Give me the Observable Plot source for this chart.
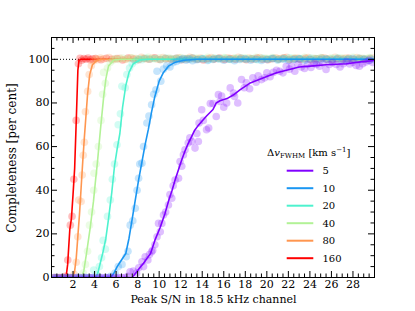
<!DOCTYPE html>
<html><head><meta charset="utf-8">
<script src="https://cdn.jsdelivr.net/npm/d3@7"></script>
<script src="https://cdn.jsdelivr.net/npm/@observablehq/plot@0.6"></script>
<style>body{margin:0;background:#fff}#chart{width:415px;height:311px}
#chart svg, #chart svg text{font-family:"DejaVu Serif","Liberation Serif",serif !important}</style>
</head><body><div id="chart"></div>
<script>
// ---- data ----
const widths = [5, 10, 20, 40, 80, 160];
const colors = ["#8000ff", "#1a96f2", "#4df2ce", "#b2f296", "#ff964f", "#ff0000"];
const xTickLabels = [2, 4, 6, 8, 10, 12, 14, 16, 18, 20, 22, 24, 26, 28];
const yTickLabels = [0, 20, 40, 60, 80, 100];
const xLabel = "Peak S/N in 18.5 kHz channel";
const yLabel = "Completeness [per cent]";

const line5x = [0, 7.5, 7.9, 8.2, 8.55, 8.9, 9.2, 9.6, 10.1, 10.55, 10.9, 11.2, 11.5, 11.8, 12.1, 12.4, 12.7, 13.0, 13.3, 13.6, 13.95, 14.4, 15.0, 15.3, 15.65, 16.3, 17.0, 17.5, 18.4, 19.7, 20.9, 22.1, 23.0, 24.3, 25.5, 27.4, 28.5, 30];
const line5y = [0, 0, 2.5, 4.5, 6.5, 9, 11, 17, 23, 29.5, 35.5, 40, 45, 49.5, 54, 58, 61.5, 64.5, 67.5, 69.5, 71.5, 74, 77, 80, 81, 82, 84, 86, 89, 91.5, 93.8, 95.3, 96.5, 97, 97.5, 98, 98.7, 99.5];
const line10x = [0, 5.5, 5.8, 6.1, 6.5, 6.9, 7.2, 7.5, 7.8, 8.1, 8.4, 8.7, 9.0, 9.3, 9.6, 10.0, 10.4, 10.9, 11.5, 12.3, 13.5, 30];
const line10y = [0, 0, 2, 5, 8, 11, 18, 27, 36, 45, 53, 61, 68, 76, 83, 90, 94, 97, 98.7, 99.6, 100, 100];
const line20x = [0, 4.1, 4.3, 4.55, 4.8, 5.05, 5.3, 5.6, 5.85, 6.1, 6.35, 6.6, 6.9, 7.2, 7.6, 8.2, 9.0, 30];
const line20y = [0, 0, 2, 7, 12, 18, 27, 39, 51, 59, 66, 78, 88, 94, 98, 99.7, 100, 100];
const line40x = [0, 2.8, 3.0, 3.25, 3.6, 3.9, 4.1, 4.25, 4.55, 4.85, 5.05, 5.3, 5.8, 6.5, 30];
const line40y = [0, 0, 3, 11, 23, 35, 45, 52, 68, 83, 91, 97, 99.7, 100, 100];
const line80x = [0, 2.0, 2.15, 2.3, 2.45, 2.6, 2.75, 2.9, 3.05, 3.2, 3.35, 3.55, 3.8, 4.2, 4.6, 30];
const line80y = [0, 0, 3, 9, 19, 29, 41, 53, 64, 74, 84, 93, 97.5, 99.5, 100, 100];
const line160x = [0, 1.35, 1.5, 1.7, 1.85, 2.0, 2.15, 2.3, 2.45, 2.55, 2.7, 30];
const line160y = [0, 0, 6, 22, 27, 38, 50, 72, 95, 99.5, 100, 100];

const pts5 = [[0.2,0],[0.5,0],[0.8,0],[1.1,0],[1.4,0],[1.7,0],[2.0,0],[2.3,0],[2.6,0],[2.9,0],[3.2,0],[3.5,0],[3.8,0],[4.1,0],[4.4,0],[4.7,0],[5.0,0],[5.3,0],[5.6,0],[5.9,0],[6.2,0],[6.5,0],[6.8,0],[7.1,0.5],
[7.3,2.6],[7.6,3],[7.9,2],[8.1,4.5],[8.4,7.2],[8.55,5],[8.7,9.5],[8.95,8],[9.1,10.5],[9.3,11.8],[9.4,12.5],[9.6,15],[9.8,18.7],[9.94,24.8],[10.1,21],[10.25,24.8],[10.4,28.6],[10.6,30],[10.86,33.2],[11.0,38],[11.17,36.3],[11.3,42],[11.48,44.7],[11.8,45.5],[11.94,53.2],[12.1,51],[12.25,56.2],[12.4,58.5],[12.7,61.6],[12.85,64],[13.03,62.3],[13.33,59.3],[13.5,66],[13.64,62.3],[13.7,70.8],[13.95,76.9],[14.1,72],[14.4,67.7],[14.6,68.5],[14.75,79.7],[15.0,79.7],[15.3,73.8],[15.5,83.8],[15.65,80.7],[15.8,83.2],[16.0,78],[16.27,80],[16.6,86.9],[16.9,84.5],[17.0,83],[17.3,80],[17.65,90.7],[17.9,87],[18.1,89.2],[18.4,86.5],[18.7,91.5],[19.0,89.5],[19.2,92.5],[19.5,90.7],[19.8,91.5],[20.0,93.8],[20.3,92],[20.6,94],[20.9,95],[21.2,94.5],[21.5,93.8],[21.8,96.8],[22.1,95.5],[22.3,96.8],[22.6,94.5],[22.9,97.7],[23.2,96.5],[23.5,95.8],[23.8,97.6],[24.1,96.3],[24.4,98.2],[24.6,97.6],[24.9,96.8],[25.2,98.3],[25.5,95.3],[25.8,97.6],[26.1,98.5],[26.45,97.6],[26.8,96.5],[27.1,98],[27.4,99],[27.7,97.9],[28.0,98.6],[28.3,97.2],[28.6,96.8],[28.9,98],[29.2,98.8],[29.5,99.5],[29.8,98.6]];
const pts10 = [[0.3,0],[1.0,0],[1.7,0],[2.4,0],[3.1,0],[3.8,0],[4.5,0],[5.1,0],[5.5,0.5],[5.9,2],[6.2,5],[6.55,6],[6.94,9.5],[7.1,12],[7.31,24],[7.55,26],[7.78,31.7],[7.95,40],[8.09,45.5],[8.2,52],[8.4,52.4],[8.55,60],[8.86,70.8],[9.05,74],[9.3,79.2],[9.5,84],[9.7,86],[9.8,94.5],[10.15,90],[10.4,95.5],[10.7,97],[11.0,96.5],[11.3,98.5],[11.6,99],[11.9,99.7],[12.2,100.3],[12.5,99.6],[12.8,100.1],[13.1,99.4],
[13.5,99.8],[14.0,100.2],[14.5,99.5],[15.0,99.9],[15.5,100.3],[16.0,99.6],[16.5,100],[17.0,99.4],[17.5,99.9],[18.0,100.2],[18.5,99.6],[19.0,100],[19.5,99.5],[20.0,99.9],[20.5,100.3],[21.0,99.7],[21.5,100.1],[22.0,99.5],[22.5,99.9],[23.0,100.2],[23.5,99.6],[24.0,100],[24.5,99.4],[25.0,99.8],[25.5,100.2],[26.0,99.6],[26.5,100],[27.0,99.5],[27.5,99.9],[28.0,100.3],[28.5,99.7],[29.0,100],[29.5,99.5],[29.9,99.9]];
const pts20 = [[0.5,0],[1.2,0],[1.9,0],[2.6,0],[3.2,0],[3.6,0],[3.92,3.4],[4.2,1.5],[4.45,5],[4.65,9],[4.8,17],[5.0,13],[5.2,28],[5.46,35.5],[5.65,45],[5.85,52],[6.08,60.8],[6.2,70],[6.4,75],[6.54,87.6],[6.85,87],[7.0,93],[7.25,96],[7.5,98],[7.8,99.2],[8.1,100.2],[8.4,99.8],[8.75,100.5],
[9.1,100],[9.6,100.4],[10.1,99.8],[10.6,100.6],[11.1,100.1],[11.6,100.5],[12.1,99.9],[12.6,100.3],[13.1,100.7],[13.6,100],[14.1,100.4],[14.6,99.8],[15.1,100.6],[15.6,100.2],[16.1,100.5],[16.6,99.9],[17.1,100.3],[17.6,100.7],[18.1,100],[18.6,100.4],[19.1,99.8],[19.6,100.6],[20.1,100.1],[20.6,100.5],[21.1,99.9],[21.6,100.3],[22.1,100.7],[22.6,100],[23.1,100.4],[23.6,99.8],[24.1,100.6],[24.6,100.2],[25.1,100.5],[25.6,99.9],[26.1,100.3],[26.6,100.7],[27.1,100],[27.6,100.4],[28.1,99.8],[28.6,100.6],[29.1,100.1],[29.6,100.5]];
const pts40 = [[0.2,0],[0.8,0],[1.5,0],[2.2,0],[2.7,0],[2.95,2],[3.15,6],[3.35,12],[3.53,24],[3.72,30],[3.92,40],[3.95,47.8],[4.15,52],[4.35,60],[4.6,72],[4.75,84],[4.84,94],[5.0,89],[5.2,96],[5.45,98.5],[5.7,99.6],[5.95,100.4],[6.25,99.9],[6.6,100.6],
[7.0,100.2],[7.5,100.7],[8.0,100],[8.5,100.5],[9.0,100.9],[9.5,100.3],[10.0,100.7],[10.5,100.1],[11.0,100.6],[11.5,100.2],[12.0,100.8],[12.5,100.4],[13.0,100],[13.5,100.6],[14.0,100.3],[14.5,100.9],[15.0,100.1],[15.5,100.5],[16.0,100.8],[16.5,100.2],[17.0,100.6],[17.5,100],[18.0,100.7],[18.5,100.3],[19.0,100.9],[19.5,100.1],[20.0,100.5],[20.5,100.8],[21.0,100.2],[21.5,100.6],[22.0,100],[22.5,100.7],[23.0,100.3],[23.5,100.9],[24.0,100.1],[24.5,100.5],[25.0,100.8],[25.5,100.2],[26.0,100.6],[26.5,100],[27.0,100.7],[27.5,100.3],[28.0,100.9],[28.5,100.1],[29.0,100.5],[29.5,100.8]];
const pts80 = [[0.4,0],[0.9,0],[1.4,0],[1.8,0],[2.1,1.5],[2.3,7],[2.44,18.7],[2.53,35.5],[2.75,34.8],[2.85,47],[2.95,56],[3.05,62],[3.15,76],[3.36,85.3],[3.5,93],[3.7,97],[3.9,99.2],[4.1,100.3],[4.3,99.8],[4.55,100.6],
[4.85,100.2],[5.35,100.8],[5.85,100.1],[6.35,100.5],[6.85,99.9],[7.35,100.7],[7.85,100.3],[8.35,100.9],[8.85,100.2],[9.35,100.6],[9.85,100],[10.35,100.8],[10.85,100.4],[11.35,100.1],[11.85,100.7],[12.35,100.3],[12.85,100.9],[13.35,100.2],[13.85,100.6],[14.35,100],[14.85,100.8],[15.35,100.4],[15.85,100.1],[16.35,100.7],[16.85,100.3],[17.35,100.9],[17.85,100.2],[18.35,100.6],[18.85,100],[19.35,100.8],[19.85,100.4],[20.35,100.1],[20.85,100.7],[21.35,100.3],[21.85,100.9],[22.35,100.2],[22.85,100.6],[23.35,100],[23.85,100.8],[24.35,100.4],[24.85,100.1],[25.35,100.7],[25.85,100.3],[26.35,100.9],[26.85,100.2],[27.35,100.6],[27.85,100],[28.35,100.8],[28.85,100.4],[29.35,100.1],[29.85,100.6]];
const pts160 = [[0.3,0],[0.7,0],[1.1,0],[1.3,0.5],[1.51,8],[1.75,24],[1.91,28],[2.07,45],[2.29,72],[2.5,98],[2.65,100.5],[2.8,99.6],[3.0,100.3],[3.2,100],[3.4,100.6],[3.6,99.8],[3.8,100.2],
[4.1,100.4],[4.6,99.8],[5.1,100.5],[5.6,100],[6.1,100.3],[6.6,99.7],[7.1,100.6],[7.6,100.1],[8.1,99.8],[8.6,100.4],[9.1,100],[9.6,100.7],[10.1,99.9],[10.6,100.3],[11.1,100],[11.6,100.5],[12.1,99.8],[12.6,100.2],[13.1,100.6],[13.6,100],[14.1,99.7],[14.6,100.4],[15.1,100.1],[15.6,100.6],[16.1,99.9],[16.6,100.3],[17.1,100],[17.6,100.5],[18.1,99.8],[18.6,100.2],[19.1,100.6],[19.6,100],[20.1,99.8],[20.6,100.4],[21.1,100.1],[21.6,100.7],[22.1,99.9],[22.6,100.3],[23.1,100],[23.6,100.5],[24.1,99.8],[24.6,100.2],[25.1,100.6],[25.6,100],[26.1,99.8],[26.6,100.4],[27.1,100.1],[27.6,100.5],[28.1,99.9],[28.6,100.3],[29.1,100],[29.6,100.4]];

// ---- build tables ----
const lineXs = [line5x, line10x, line20x, line40x, line80x, line160x];
const lineYs = [line5y, line10y, line20y, line40y, line80y, line160y];
const ptsAll = [pts5, pts10, pts20, pts40, pts80, pts160];
const lines = widths.map((w, i) => lineXs[i].map((x, j) => ({w, x, y: lineYs[i][j]})));
const points = widths.map((w, i) => ptsAll[i].map(([x, y]) => ({w, x, y})));

const FONT = "DejaVu Serif, Liberation Serif, serif";
const W = 415, H = 311, mL = 51, mR = 41, mT = 37, mB = 34;
const pw = W - mL - mR, ph = H - mT - mB;
const xMinor = d3.range(0.5, 30, 0.5).filter(v => v % 2 !== 0);
const xMajor = d3.range(2, 30, 2);
const yMinor = d3.range(5, 110, 5).filter(v => v % 20 !== 0);
const yMajor = d3.range(20, 110, 20);
const tickCol = "#000";

const marks = [
  Plot.ruleY([100], {stroke: "#000", strokeWidth: 1, strokeDasharray: "1,2"})
];
for (let i = widths.length - 1; i >= 0; i--) {
  marks.push(Plot.dot(points[i], {x: "x", y: "y", r: 3.8, fill: "w", fillOpacity: 0.25, stroke: null, clip: true}));
  marks.push(Plot.line(lines[i], {x: "x", y: "y", stroke: "w", strokeWidth: 1.6, clip: true}));
}
marks.push(
  Plot.ruleX(xMajor, {x: d => d, insetTop: ph - 6, stroke: tickCol}),
  Plot.ruleX(xMinor, {x: d => d, insetTop: ph - 3.5, stroke: tickCol}),
  Plot.ruleX(xMajor, {x: d => d, insetBottom: ph - 6, stroke: tickCol}),
  Plot.ruleX(xMinor, {x: d => d, insetBottom: ph - 3.5, stroke: tickCol}),
  Plot.ruleY(yMajor, {y: d => d, insetRight: pw - 6, stroke: tickCol}),
  Plot.ruleY(yMinor, {y: d => d, insetRight: pw - 3.5, stroke: tickCol}),
  Plot.ruleY(yMajor, {y: d => d, insetLeft: pw - 6, stroke: tickCol}),
  Plot.ruleY(yMinor, {y: d => d, insetLeft: pw - 3.5, stroke: tickCol}),
  Plot.frame({stroke: "#000", strokeWidth: 1}),
  Plot.axisX(xTickLabels, {tickSize: 0, tickPadding: 3, label: null, fontSize: 11, fontFamily: FONT}),
  Plot.axisY(yTickLabels, {tickSize: 0, tickPadding: 2, label: null, fontSize: 11, fontFamily: FONT})
);

const svg = Plot.plot({
  width: W, height: H,
  marginLeft: mL, marginRight: mR, marginTop: mT, marginBottom: mB,
  style: {fontFamily: FONT, fontSize: "11px", background: "#fff", color: "#000"},
  x: {domain: [0, 30]},
  y: {domain: [0, 110]},
  color: {type: "ordinal", domain: widths, range: colors},
  marks
});
document.getElementById("chart").appendChild(svg);

// axis titles and legend
const s = d3.select(svg).attr("font-family", FONT);
s.append("text").attr("x", mL + pw / 2 + 1).attr("y", 303).attr("text-anchor", "middle")
  .attr("font-size", 11).attr("fill", "#000").text(xLabel);
s.append("text").attr("transform", `translate(16,${mT + ph / 2 + 1}) rotate(-90)`).attr("text-anchor", "middle")
  .attr("font-size", 12).attr("fill", "#000").text(yLabel);

const lg = s.append("g").attr("font-size", 10).attr("fill", "#000").attr("text-anchor", "start");
const title = lg.append("text").attr("x", 267).attr("y", 156);
title.append("tspan").text("Δ");
title.append("tspan").attr("font-style", "italic").text("v");
title.append("tspan").attr("font-size", 7).attr("dy", 2).text("FWHM");
title.append("tspan").attr("dy", -2).text(" [km s");
title.append("tspan").attr("font-size", 7).attr("dy", -4).text("−1");
title.append("tspan").attr("dy", 4).text("]");
widths.forEach((w, i) => {
  const yy = 170.7 + i * 17.5;
  lg.append("line").attr("x1", 286.7).attr("x2", 313.3).attr("y1", yy).attr("y2", yy)
    .attr("stroke", colors[i]).attr("stroke-width", 2);
  lg.append("text").attr("x", 322.5).attr("y", yy).attr("dy", "0.35em").text(w);
});
</script>
</body></html>
